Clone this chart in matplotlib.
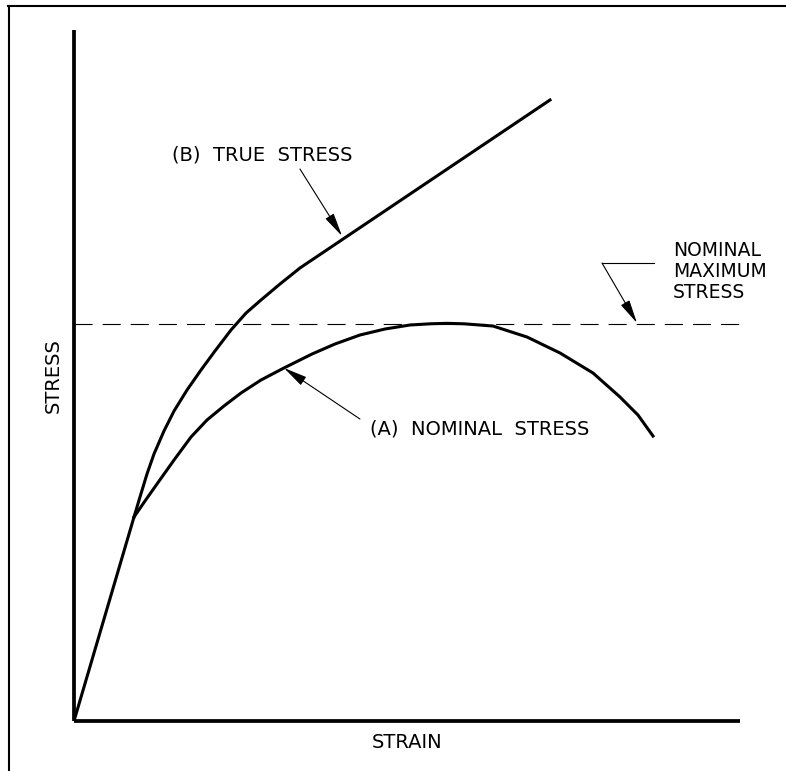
import matplotlib
matplotlib.use("Agg")
import matplotlib.pyplot as plt
from matplotlib.lines import Line2D

# ---- data (strain, stress in arbitrary units) ----
elastic_strain = [0.0, 9.01]
elastic_stress = [0.0, 29.52]

true_strain = [9.01, 9.91, 10.96, 12.01, 13.51, 15.02, 16.97, 19.07, 21.17,
               23.57, 25.83, 28.08, 30.93, 33.93, 71.47]
true_stress = [29.52, 32.42, 35.75, 38.64, 41.97, 44.86, 47.90, 50.80, 53.55,
               56.58, 59.04, 60.93, 63.24, 65.56, 89.87]

nominal_strain = [9.01, 10.66, 12.46, 15.02, 17.57, 19.97, 22.52, 25.08, 28.08,
                  31.53, 35.74, 39.19, 42.94, 46.70, 50.45, 53.45, 55.98, 58.56,
                  62.91, 68.02, 72.97, 77.93, 81.98, 84.68, 86.94]
nominal_stress = [29.52, 31.84, 34.30, 37.77, 41.10, 43.56, 45.59, 47.47, 49.35,
                  51.09, 53.11, 54.56, 55.86, 56.73, 57.31, 57.48, 57.55, 57.48,
                  57.16, 55.57, 53.26, 50.36, 46.89, 44.28, 41.24]

nominal_max = 57.5

label_true = "(B)  TRUE  STRESS"
label_nominal = "(A)  NOMINAL  STRESS"
label_max = "NOMINAL\nMAXIMUM\nSTRESS"
xlabel = "STRAIN"
ylabel = "STRESS"

# ---- figure ----
W, H = 786, 771
fig = plt.figure(figsize=(W / 100, H / 100), dpi=100)
ax = fig.add_axes([74 / W, (H - 721) / H, 666 / W, 691 / H])
ax.set_xlim(0, 100)
ax.set_ylim(0, 100)
for s in ("top", "right"):
    ax.spines[s].set_visible(False)
for s in ("left", "bottom"):
    ax.spines[s].set_linewidth(2.7)
    ax.spines[s].set_capstyle("butt")
ax.set_xticks([])
ax.set_yticks([])

fs = 14
font = dict(family="DejaVu Sans", fontsize=fs, color="black")

lw = 2.2
ax.plot(elastic_strain, elastic_stress, color="black", lw=lw, solid_capstyle="butt")
ax.plot(true_strain, true_stress, color="black", lw=lw, solid_joinstyle="round")
ax.plot(nominal_strain, nominal_stress, color="black", lw=lw, solid_joinstyle="round")
ax.axhline(nominal_max, color="black", lw=0.8, ls=(0, (16.3, 9)))

arrow = dict(arrowstyle="-|>,head_length=1.45,head_width=0.3", lw=0.8,
             color="black", shrinkA=0, shrinkB=0, mutation_scale=10)

# (B) true stress
ax.text(14.7, 81.9, label_true, ha="left", va="center", **font)
ax.annotate("", xy=(40.24, 70.19), xytext=(33.93, 79.88), arrowprops=arrow)

# (A) nominal stress
ax.text(44.4, 42.26, label_nominal, ha="left", va="center", **font)
ax.annotate("", xy=(31.53, 51.09), xytext=(42.94, 43.70), arrowprops=arrow)

# nominal maximum stress
ax.text(89.9, 65.05, label_max, ha="left", va="center", linespacing=1.15,
        family="DejaVu Sans", fontsize=13.5, color="black")
ax.plot([79.28, 87.09], [66.28, 66.28], color="black", lw=0.8)
ax.annotate("", xy=(84.53, 57.6), xytext=(79.28, 66.28), arrowprops=arrow)

ax.set_xlabel(xlabel, labelpad=9, **font)
ax.set_ylabel(ylabel, labelpad=8, **font)

# frame border lines (top and left)
fig.add_artist(Line2D([8 / W, 1], [1 - 5.5 / H, 1 - 5.5 / H], color="black", lw=1.5,
                      transform=fig.transFigure))
fig.add_artist(Line2D([9 / W, 9 / W], [0, 1 - 5.5 / H], color="black", lw=1.5,
                      transform=fig.transFigure))

fig.savefig("out.png", dpi=100)
